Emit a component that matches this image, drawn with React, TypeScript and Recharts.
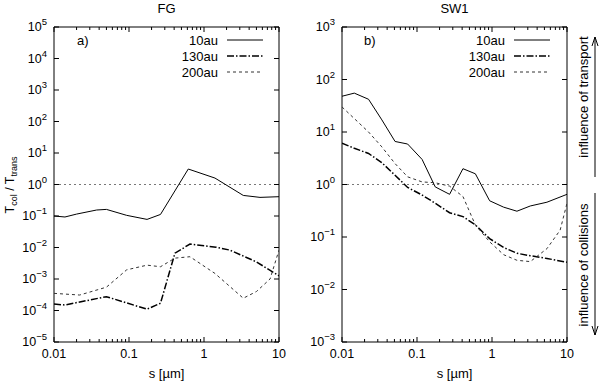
import React from 'react';
import { LineChart, Line, XAxis, YAxis, ReferenceLine, ReferenceArea } from 'recharts';

// ---------- data ----------
const FG_10_S = [0.01, 0.014, 0.02, 0.037, 0.05, 0.093, 0.174, 0.263, 0.617, 1.4, 3.34, 5.58, 10];
const FG_10_T = [0.1, 0.093, 0.115, 0.155, 0.162, 0.105, 0.078, 0.112, 3.1, 1.6, 0.45, 0.39, 0.41];

const FG_130_S = [0.01, 0.014, 0.05, 0.174, 0.263, 0.41, 0.65, 1.45, 2.2, 5.0, 10];
const FG_130_T = [1.6e-4, 1.5e-4, 2.75e-4, 1.1e-4, 1.7e-4, 6.6e-3, 1.29e-2, 1.02e-2, 8.3e-3, 3.5e-3, 1.26e-3];

const FG_200_S = [0.01, 0.022, 0.05, 0.093, 0.174, 0.263, 0.41, 0.65, 1.4, 3.34, 5.0, 7.6, 10];
const FG_200_T = [3.5e-4, 3.1e-4, 5.5e-4, 1.95e-3, 2.75e-3, 2.45e-3, 4.6e-3, 5.1e-3, 1.5e-3, 2.45e-4, 4e-4, 1.0e-3, 8.3e-3];

const SW_S = [0.01, 0.0146, 0.0226, 0.034, 0.051, 0.075, 0.117, 0.175, 0.272, 0.41, 0.6, 0.93, 1.43, 2.15, 3.24, 5.4, 10];
const SW_10_T = [48, 55, 42, 17, 6.6, 5.9, 3.0, 0.9, 0.65, 2.0, 1.6, 0.49, 0.37, 0.31, 0.39, 0.46, 0.65];
const SW_130_T = [6.1, 4.9, 3.9, 2.6, 1.5, 0.88, 0.63, 0.44, 0.29, 0.245, 0.17, 0.093, 0.063, 0.049, 0.044, 0.039, 0.033];
const SW_200_S = [0.01, 0.0146, 0.0226, 0.034, 0.051, 0.075, 0.117, 0.175, 0.272, 0.41, 0.6, 0.93, 1.43, 2.15, 3.24, 5.4, 8.1, 10];
const SW_200_T = [30, 18, 10, 5.2, 2.5, 1.4, 1.12, 1.08, 0.93, 0.59, 0.17, 0.081, 0.046, 0.036, 0.034, 0.06, 0.135, 0.44];

const X_MAJOR = [0.01, 0.1, 1, 10];
const X_MAJOR_LABELS = ['0.01', '0.1', '1', '10'];
const X_MINOR_STEPS = [2, 3, 4, 5, 6, 7, 8, 9];
const FG_Y_EXP = [-5, -4, -3, -2, -1, 0, 1, 2, 3, 4, 5];
const SW_Y_EXP = [-3, -2, -1, 0, 1, 2, 3];

const SERIES_LABELS = ['10au', '130au', '200au'];
const TITLES = ['FG', 'SW1'];
const PANEL_TAGS = ['a)', 'b)'];
const X_LABEL = 's [\u00b5m]';

// ---------- helpers ----------
const zip = (s: number[], t: number[]) => s.map((v, i) => ({ s: v, t: t[i] }));
const xTicks = [
  ...X_MAJOR,
  ...X_MAJOR.slice(0, 3).flatMap((m) => X_MINOR_STEPS.map((k) => +(m * k).toPrecision(3))),
].sort((a, b) => a - b);
const isMajorX = (v: number) => X_MAJOR.findIndex((m) => Math.abs(Math.log10(v) - Math.log10(m)) < 1e-6);

const FONT = '"Liberation Sans", Arial, Helvetica, sans-serif';
const PLOT_H = 315;
const PLOT_W = 225;

const STYLES = [
  { stroke: '#000', strokeWidth: 1, dash: undefined as string | undefined },
  { stroke: '#000', strokeWidth: 1.5, dash: '7 2 1.5 2' },
  { stroke: '#333', strokeWidth: 1, dash: '3 3' },
];

const XTick = (props: any) => {
  const { x, y, payload } = props;
  const idx = isMajorX(payload.value);
  const len = idx >= 0 ? 5 : 3;
  return (
    <g>
      <line x1={x} y1={y} x2={x} y2={y - len} stroke="#000" strokeWidth={1} />
      <line x1={x} y1={y - PLOT_H} x2={x} y2={y - PLOT_H + len} stroke="#000" strokeWidth={1} />
      {idx >= 0 && (
        <text x={x} y={y + 16} textAnchor="middle" fontSize={12.5} fontFamily={FONT} fill="#000">
          {X_MAJOR_LABELS[idx]}
        </text>
      )}
    </g>
  );
};

const YTick = (props: any) => {
  const { x, y, payload } = props;
  const e = Math.round(Math.log10(payload.value));
  const exp = e < 0 ? '\u2212' + Math.abs(e) : String(e);
  return (
    <g>
      <line x1={x} y1={y} x2={x + 5} y2={y} stroke="#000" strokeWidth={1} />
      <line x1={x + PLOT_W} y1={y} x2={x + PLOT_W - 5} y2={y} stroke="#000" strokeWidth={1} />
      <text x={x - 7} y={y + 4} textAnchor="end" fontSize={12.5} fontFamily={FONT} fill="#000">
        10
        <tspan dy={-6} fontSize={9.5}>
          {exp}
        </tspan>
      </text>
    </g>
  );
};

type Panel = {
  yExp: number[];
  series: { s: number; t: number }[][];
  yAxisWidth: number;
  width: number;
  rightMargin: number;
};

const PanelChart = ({ p }: { p: Panel }) => {
  const yTicks = p.yExp.map((e) => Math.pow(10, e));
  const yMin = yTicks[0];
  const yMax = yTicks[yTicks.length - 1];
  return (
    <LineChart width={p.width} height={384} margin={{ top: 27, right: p.rightMargin, bottom: 0, left: 0 }}>
      <XAxis
        dataKey="s"
        type="number"
        scale="log"
        domain={[0.01, 10]}
        allowDataOverflow
        ticks={xTicks}
        interval={0}
        tickSize={0}
        tickMargin={0}
        axisLine={false}
        tickLine={false}
        height={42}
        tick={(tp: any) => <XTick {...tp} />}
      />
      <YAxis
        dataKey="t"
        type="number"
        scale="log"
        domain={[yMin, yMax]}
        allowDataOverflow
        ticks={yTicks}
        interval={0}
        tickSize={0}
        tickMargin={0}
        axisLine={false}
        tickLine={false}
        width={p.yAxisWidth}
        tick={(tp: any) => <YTick {...tp} />}
      />
      <ReferenceLine y={1} stroke="#555" strokeWidth={0.8} strokeDasharray="2 3" />
      {p.series.map((d, i) => (
        <Line
          key={i}
          data={d}
          dataKey="t"
          type="linear"
          dot={false}
          stroke={STYLES[i].stroke}
          strokeWidth={STYLES[i].strokeWidth}
          strokeDasharray={STYLES[i].dash}
          isAnimationActive={false}
        />
      ))}
      <ReferenceArea x1={0.01} x2={10} y1={yMin} y2={yMax} fill="none" fillOpacity={0} stroke="#000" strokeWidth={1} />
    </LineChart>
  );
};

const LEFT: Panel = {
  yExp: FG_Y_EXP,
  series: [zip(FG_10_S, FG_10_T), zip(FG_130_S, FG_130_T), zip(FG_200_S, FG_200_T)],
  yAxisWidth: 54,
  width: 290,
  rightMargin: 11,
};
const RIGHT: Panel = {
  yExp: SW_Y_EXP,
  series: [zip(SW_S, SW_10_T), zip(SW_S, SW_130_T), zip(SW_200_S, SW_200_T)],
  yAxisWidth: 52,
  width: 310,
  rightMargin: 33,
};

const Legend = ({ textX, lineX1, lineX2 }: { textX: number; lineX1: number; lineX2: number }) => (
  <g>
    {SERIES_LABELS.map((lab, i) => (
      <g key={lab}>
        <text x={textX} y={44.5 + i * 16} textAnchor="end" fontSize={13} fontFamily={FONT} fill="#000">
          {lab}
        </text>
        <line
          x1={lineX1}
          x2={lineX2}
          y1={40 + i * 16}
          y2={40 + i * 16}
          stroke={STYLES[i].stroke}
          strokeWidth={STYLES[i].strokeWidth}
          strokeDasharray={STYLES[i].dash}
        />
      </g>
    ))}
  </g>
);

export default function App() {
  return (
    <div style={{ position: 'absolute', left: 0, top: 0, width: 600, height: 384, background: '#fff', fontFamily: FONT }}>
      <div style={{ position: 'absolute', left: 0, top: 0 }}>
        <PanelChart p={LEFT} />
      </div>
      <div style={{ position: 'absolute', left: 290, top: 0 }}>
        <PanelChart p={RIGHT} />
      </div>
      <svg width={600} height={384} style={{ position: 'absolute', left: 0, top: 0, pointerEvents: 'none' }}>
        <text x={166.5} y={13} textAnchor="middle" fontSize={13} fontFamily={FONT}>{TITLES[0]}</text>
        <text x={454.5} y={13} textAnchor="middle" fontSize={13} fontFamily={FONT}>{TITLES[1]}</text>
        <text x={77} y={44.5} fontSize={13} fontFamily={FONT}>{PANEL_TAGS[0]}</text>
        <text x={364} y={44.5} fontSize={13} fontFamily={FONT}>{PANEL_TAGS[1]}</text>
        <Legend textX={218} lineX1={227} lineX2={263} />
        <Legend textX={505} lineX1={514} lineX2={550} />
        <text x={166.5} y={378} textAnchor="middle" fontSize={13} fontFamily={FONT}>{X_LABEL}</text>
        <text x={454.5} y={378} textAnchor="middle" fontSize={13} fontFamily={FONT}>{X_LABEL}</text>
        <text transform="translate(14,185) rotate(-90)" textAnchor="middle" fontSize={12.5} fontFamily={FONT}>
          T<tspan dy={3} fontSize={9}>col</tspan>
          <tspan dy={-3}> / T</tspan>
          <tspan dy={3} fontSize={9}>trans</tspan>
        </text>
        <text transform="translate(588,97) rotate(-90)" textAnchor="middle" fontSize={13} fontFamily={FONT}>
          influence of transport
        </text>
        <text transform="translate(588,265) rotate(-90)" textAnchor="middle" fontSize={13} fontFamily={FONT}>
          influence of collisions
        </text>
        <line x1={595} y1={177} x2={595} y2={37} stroke="#000" strokeWidth={1} />
        <polyline points="592,46 595,37 598,46" fill="none" stroke="#000" strokeWidth={1} />
        <line x1={595} y1={193} x2={595} y2={335} stroke="#000" strokeWidth={1} />
        <polyline points="592,326 595,335 598,326" fill="none" stroke="#000" strokeWidth={1} />
      </svg>
    </div>
  );
}
